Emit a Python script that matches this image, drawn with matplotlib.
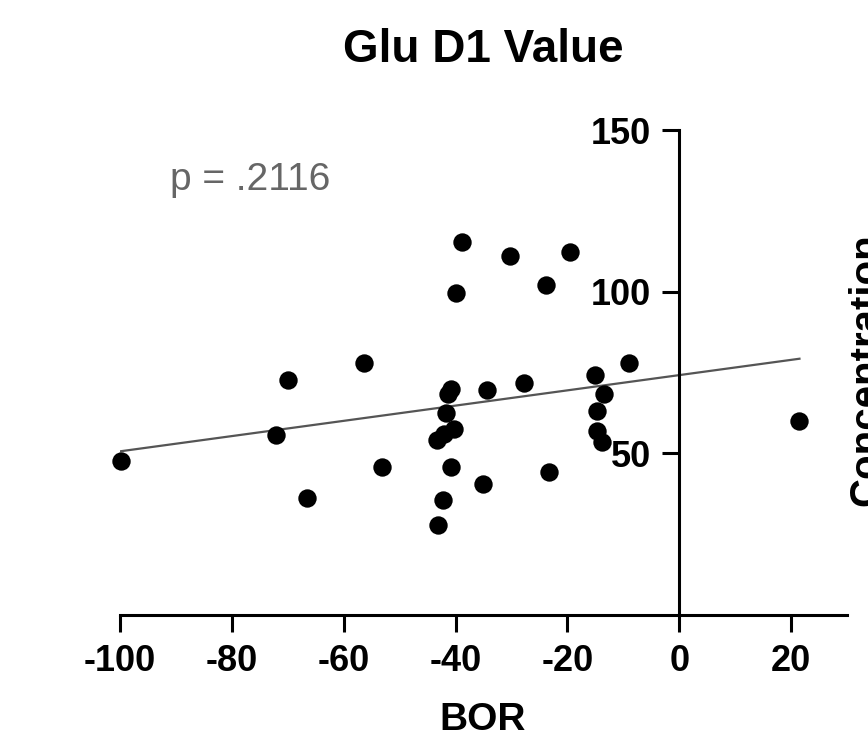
import numpy as np
import matplotlib
matplotlib.use("Agg")
import matplotlib.pyplot as plt

plt.rcParams['font.family'] = ['Liberation Sans', 'DejaVu Sans']
plt.rcParams['axes.unicode_minus'] = False

title = "Glu D1 Value"
x_label = "BOR"
y_label = "Concentration"
p_text = "p = .2116"

bor = [-99.9, -72.1, -69.9, -66.5, -56.4, -53.2, -38.9, -39.9, -40.8, -41.3,
       -41.7, -40.3, -42.0, -43.4, -40.8, -42.3, -43.2, -34.3, -35.1, -30.2,
       -19.5, -23.8, -27.7, -15.1, -9.0, -13.4, -14.7, -14.7, -13.8, -23.2,
       21.5]
conc = [47.6, 55.6, 72.8, 36.2, 78.0, 45.8, 115.5, 99.6, 70.0, 68.4,
        62.4, 57.6, 56.0, 54.2, 45.7, 35.5, 27.9, 69.7, 40.6, 111.1,
        112.3, 102.2, 71.8, 74.3, 77.9, 68.4, 63.0, 56.9, 53.5, 44.2,
        59.9]

x_ticks = [-100, -80, -60, -40, -20, 0, 20]
y_ticks = [50, 100, 150]

fig = plt.figure(figsize=(8.68, 7.53), dpi=100)
ax = fig.add_axes([120/868, (753-615)/753, (847-120)/868, (615-130)/753])

ax.scatter(bor, conc, s=175, color='black', zorder=3, linewidths=0,
           clip_on=False)

slope, intercept = np.polyfit(bor, conc, 1)
xs = np.array([min(bor), max(bor)])
ax.plot(xs, intercept + slope*xs, color='#555555', lw=1.6, zorder=2)

ax.set_xlim(-100, 30)
ax.set_ylim(0, 150)
ax.spines['left'].set_position(('data', 0))
ax.spines['bottom'].set_position(('data', 0))
ax.spines['top'].set_visible(False)
ax.spines['right'].set_visible(False)
for s in ['left', 'bottom']:
    ax.spines[s].set_linewidth(2.2)
ax.spines['left'].set_bounds(0, 150)

ax.set_xticks(x_ticks)
ax.set_yticks(y_ticks)
ax.tick_params(axis='both', direction='out', length=12, width=2.2,
               labelsize=26)
ax.tick_params(axis='x', pad=9)
ax.tick_params(axis='y', pad=8)
for lab in ax.get_xticklabels() + ax.get_yticklabels():
    lab.set_fontweight('bold')

fig.text(483/868, 1 - 50/753, title, ha='center', va='center', fontsize=33,
         fontweight='bold')
fig.text(483/868, 1 - 720/753, x_label, ha='center', va='center', fontsize=28,
         fontweight='bold')
fig.text(250/868, 1 - 180/753, p_text, ha='center', va='center', fontsize=28,
         color='#666666')
fig.text(847/868, 1 - 370/753, y_label, ha='left', va='center', fontsize=29,
         fontweight='bold', rotation=90)

fig.savefig('out.png', dpi=100)
